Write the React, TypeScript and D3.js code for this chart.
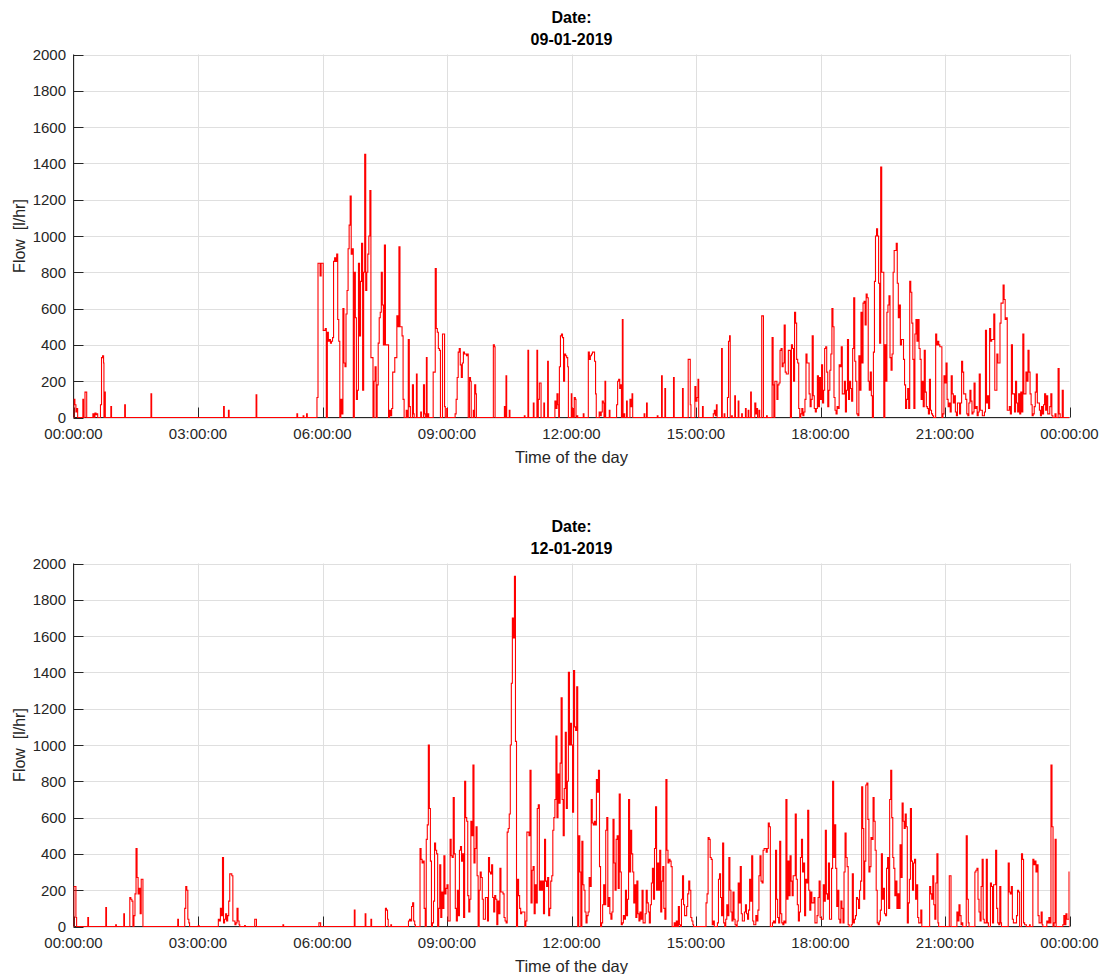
import React, { useEffect } from 'react';
import * as d3 from 'd3';

// ---------------- DATA ----------------
// Flow samples: each burst = [start minute of day, v0, v1, ...] sampled every SAMPLE_STEP minutes; flow is 0 outside bursts.
const SAMPLE_STEP = 1.5;
const DAY_MINUTES = 1440;

const dates = ['09-01-2019', '12-01-2019'];
const yTicks = [0, 200, 400, 600, 800, 1000, 1200, 1400, 1600, 1800, 2000];
const xTicks = [0, 180, 360, 540, 720, 900, 1080, 1260, 1440];
const xTickLabels = ['00:00:00', '03:00:00', '06:00:00', '09:00:00', '12:00:00', '15:00:00', '18:00:00', '21:00:00', '00:00:00'];

const topBursts: number[][] = [
  [0.5, 100, 70, 30, 50],
  [13.5, 100],
  [16.6, 140, 140],
  [28, 20, 0, 25, 15, 20],
  [39, 70, 330, 340, 300],
  [45, 140],
  [54, 60],
  [74, 70],
  [112, 130],
  [217, 60],
  [224, 40],
  [264, 125],
  [323, 20],
  [332, 10],
  [337, 20],
  [352, 110, 850, 850, 780, 850, 850, 480, 480, 490, 0, 470, 420, 430, 410, 420, 440, 860, 880, 860, 900,
    540, 420, 0, 100, 20, 600, 300, 280, 570, 700, 930, 1060, 1220, 900, 930, 0, 800, 550, 100, 150,
    850, 450, 750, 960, 150, 800, 1450, 700, 800, 900, 1000, 1250, 330, 330, 0, 200, 280, 0, 180, 410,
    550, 580, 800, 620, 400, 950, 400, 400, 400, 0, 40, 10, 50, 250, 250, 330, 330, 560, 500, 940,
    500, 500, 450, 100, 0, 0, 40, 0, 430, 60, 0],
  [490, 180, 20],
  [495.8, 240],
  [502, 30],
  [506, 180, 20],
  [510.2, 330],
  [512.5, 20],
  [520, 250, 250, 820, 490, 470, 380, 370, 0, 0, 460, 460, 60],
  [539.6, 50],
  [551.7, 20, 100, 220, 360, 380, 290, 220, 300, 360, 350, 350, 340, 350],
  [572.5, 220, 200],
  [578, 40],
  [580, 180, 130],
  [607, 400, 390],
  [623, 60],
  [625.3, 230],
  [630, 40],
  [651.8, 10],
  [657, 370],
  [664.8, 80],
  [670, 370],
  [672, 100, 190, 190],
  [680, 80],
  [685.5, 310],
  [696, 90, 50, 130, 70],
  [702.5, 280, 450, 460, 440, 200, 350, 340, 330, 280],
  [719.7, 130],
  [721.5, 50],
  [724, 110, 100],
  [728, 10],
  [737, 20],
  [744.3, 360, 320, 340, 350, 360, 360, 310, 130],
  [760, 30, 10, 30, 90, 80],
  [768.4, 200],
  [774.6, 40],
  [785.2, 70, 200, 210, 160, 180],
  [793.5, 540],
  [796, 20],
  [799.6, 90],
  [804.5, 100, 60, 130],
  [825, 20],
  [828.5, 80],
  [844, 10],
  [850.2, 230],
  [855, 160],
  [867.5, 220],
  [880.5, 160],
  [888.7, 320, 320, 70],
  [898.4, 170, 90, 110, 210],
  [909.4, 60],
  [925, 20, 40, 10, 70],
  [937, 380],
  [940.7, 20],
  [945.5, 110, 420, 450],
  [951.5, 10],
  [956, 120],
  [961, 90],
  [966, 20],
  [971.5, 50],
  [975.4, 40],
  [979, 140],
  [985, 80, 20, 50],
  [991, 40],
  [995, 560, 560],
  [1002, 10],
  [1010, 440, 180],
  [1014,
    200, 200, 100, 180, 190, 370, 380, 280, 300, 510,
    250, 240, 240, 370, 370, 0, 400, 380, 200, 580,
    520, 320, 300, 50, 0, 20, 50, 10, 30, 100,
    350, 300, 300, 130, 60, 100, 450, 120, 50, 30,
    50, 230, 60, 220, 100, 290, 80, 150, 380, 390,
    250, 60, 150, 260, 350, 600, 500, 110, 40, 20,
    60, 50, 290, 280, 390, 130, 130, 200, 30, 150,
    430, 100, 200, 160, 90, 380, 660, 310, 200, 20,
    10, 340, 150, 580, 300, 630, 640, 510, 680, 660,
    200, 150, 250, 120, 0, 360, 750, 1000, 1040, 1000,
    740, 410, 1380, 800, 800, 0, 400, 200, 580, 620,
    670, 330, 260, 350, 800, 920, 920, 960, 740, 550,
    620, 400, 430, 430, 320, 180, 50, 100, 160, 50,
    750, 690, 520, 320, 50, 460, 540, 420, 540, 380,
    320, 100, 200, 60, 370, 140, 60, 50, 20, 210,
    40, 20, 10, 0, 0, 460, 400, 420, 400, 390,
    390, 0, 20, 230, 190, 300, 100, 60, 80, 30,
    230, 130, 80, 120, 30, 10, 80, 80, 20, 80,
    310, 250, 130, 130, 100, 20, 10, 80, 150, 90,
    20, 30, 190, 50, 60, 10, 30, 240, 40, 40,
    10, 10, 30, 480, 80, 120, 50, 490, 420, 430,
    430, 570, 150, 150, 350, 300, 300, 520, 630, 630,
    730, 650, 540, 550, 40, 40, 60, 20, 400, 130,
    130, 30, 200, 80, 30, 130, 20, 140, 30, 460,
    130, 130, 250, 200, 370, 250, 130, 70, 10, 20,
    60, 140, 240, 80, 80, 40, 10, 60, 20, 70,
    130, 40, 120, 20, 20, 60, 130, 10, 0, 0,
    20, 0, 0, 270, 20, 0, 0, 150, 0],
];

const bottomBursts: number[][] = [
  [0.5, 220, 220, 50],
  [20.7, 50],
  [46.7, 105],
  [61, 10],
  [72.7, 70],
  [81.4, 160, 150, 140, 0, 60, 180, 430, 270, 180, 210, 70, 260, 260],
  [150.7, 40],
  [160.8, 100, 220, 200, 40, 20],
  [180.5, 5],
  [209.4, 40, 30, 100, 60, 380, 20, 40, 70, 30, 60, 140, 290, 290, 280, 30, 30, 10, 20, 100, 30, 10],
  [247.4, 5],
  [262, 40, 40],
  [302.8, 10],
  [354.8, 20, 20],
  [406, 90],
  [421.7, 70],
  [430, 40],
  [451, 100, 90, 40],
  [458.8, 10],
  [484.3, 30, 40, 30, 110, 130, 30, 10],
  [501,
    430, 370, 350, 360, 100, 0, 480, 560, 1000, 650,
    360, 0, 20, 140, 460, 420, 400, 0, 100, 340,
    50, 190, 100, 390, 180, 210, 230, 30, 30, 480,
    390, 380, 710, 400, 100, 30, 200, 60, 420, 440,
    360, 400, 50, 800, 600, 580, 170, 80, 150, 580,
    500, 890, 350, 430, 550, 280, 0, 200, 300, 270,
    150, 40, 40, 160, 160, 30, 380, 300, 290, 340,
    160, 80, 170, 150, 10, 140, 70, 320, 190, 190,
    180, 50, 30, 20, 520, 540, 620, 1000, 1340, 1700,
    1590, 1930, 1020, 0, 260, 170, 100, 70, 80, 80,
    80, 0, 30, 520, 520, 500, 860, 130, 310, 330,
    70, 230, 130, 650, 670, 200, 250, 200, 250, 70,
    480, 250, 220, 270, 60, 100, 250, 280, 530, 600,
    700, 1050, 600, 840, 680, 900, 1260, 700, 500, 760,
    1070, 650, 800, 1400, 1000, 1120, 1000, 630, 1410, 1100,
    1080, 1320, 0, 500, 300, 0, 470, 230, 200, 80,
    20, 60, 80, 270, 220, 700, 570, 560, 580, 560,
    810, 740, 860, 330, 0, 20, 120, 230, 120, 530,
    600, 110, 160, 70, 40, 80, 590, 350, 200, 480,
    500, 210, 730, 300, 10, 20, 60, 40, 200, 60,
    150, 700, 300, 530, 400, 300, 130, 230, 50, 250,
    70, 30, 80, 40, 200, 20, 20, 70, 200, 130,
    80, 20, 120, 240, 320, 150, 430, 660, 200, 350,
    200, 420, 80, 250, 330, 100, 40, 810, 420, 350,
    370, 360, 330, 0, 0, 20, 0, 30, 0, 110,
    10, 0, 150, 280, 120, 60, 60, 110, 180, 250,
    200, 50, 30, 10],
  [913,
    0, 130, 180, 490, 480, 380, 370, 10, 30, 0,
    0, 0, 20, 260, 290, 160, 60, 460, 20, 0,
    40, 120, 60, 380, 200, 80, 30, 190, 40, 10,
    0, 30, 240, 130, 330, 70, 30, 30, 80, 120,
    70, 40, 90, 260, 140, 390, 30, 10, 10, 60,
    30, 90, 280, 390, 250, 240, 420, 430, 430, 410,
    430, 570, 550, 0, 0, 20, 30, 20, 420, 150,
    50, 20, 470, 70, 20, 10, 30, 20, 700, 150,
    360, 170, 390, 250, 170, 280, 280, 620, 260, 120,
    30, 80, 380, 480, 300, 350, 60, 260, 240, 640,
    200, 90, 190, 130, 130, 160, 20, 20, 60, 160,
    250, 50, 40, 40, 230, 140, 530, 180, 150, 350,
    40, 40, 320, 800, 380, 560, 320, 110, 200,
    40, 20, 140, 100, 20, 300, 515, 380, 330, 10, 0,
    0, 10, 290, 20, 40, 60, 160, 150, 100, 200,
    250, 770, 540, 150, 360, 780, 790, 590, 300, 330,
    490, 480, 710, 580, 420, 200, 20, 10, 30, 90,
    400, 150, 210, 70, 60, 320, 380, 100, 700, 860,
    600, 380, 320, 170, 250, 100, 180, 100, 450, 270,
    680, 580, 540, 620, 550, 20, 130, 260, 650, 360,
    200, 350, 370, 150, 230, 50, 20, 20, 90, 0],
  [1237.8, 220, 180, 150, 280, 120, 40, 240, 400, 20],
  [1266.2, 280, 280],
  [1277.2, 80, 30, 120, 60, 10, 20],
  [1290.7, 500, 150, 20],
  [1303.2, 300, 310, 320, 150, 80, 30, 220, 370, 40, 20, 20, 370, 20, 0, 0, 240, 220, 20, 230, 230, 420, 100, 20, 10, 220, 20],
  [1351.4, 350, 190, 180, 220, 40, 20, 20, 20, 60, 200, 190, 0],
  [1370.6, 400, 370, 20, 10, 10],
  [1382.2, 10],
  [1387, 370, 340, 360, 300, 340, 60, 20, 20, 80, 10],
  [1407.2, 30, 20, 50, 20, 890, 550, 0, 20, 480, 0],
  [1430.3, 10, 60, 10, 70, 40, 40, 300],
];

// ---------------- HELPERS ----------------
function toPoints(bursts: number[][]): [number, number][] {
  const pts: [number, number][] = [[0, 0], [DAY_MINUTES, 0]];
  for (const b of bursts) {
    const [start, ...vals] = b;
    pts.push([start - 1, 0]);
    vals.forEach((v, i) => pts.push([start + i * SAMPLE_STEP, v]));
    pts.push([start + (vals.length - 1) * SAMPLE_STEP + 1, 0]);
  }
  pts.sort((a, b) => a[0] - b[0]);
  return pts;
}

const FONT = '"Liberation Sans", Arial, Helvetica, sans-serif';
const TEXT = '#262626';
const GRID = '#dfdfdf';

const LEFT = 73.5;
const RIGHT = 1069.5;

interface PanelProps {
  idx: number;
  top: number;
  bottom: number;
  date: string;
  bursts: number[][];
}

function Panel({ idx, top, bottom, date, bursts }: PanelProps) {
  const x = d3.scaleLinear().domain([0, DAY_MINUTES]).range([LEFT, RIGHT]);
  const y = d3.scaleLinear().domain([0, 2000]).range([bottom, top]);
  const line = d3
    .line<[number, number]>()
    .x((d) => x(d[0]))
    .y((d) => y(d[1]))
    .curve(d3.curveStepAfter);
  const path = line(toPoints(bursts)) || '';
  const clipId = `clip-${idx}`;
  const midY = (top + bottom) / 2;
  const cx = (LEFT + RIGHT) / 2;

  return (
    <g>
      <defs>
        <clipPath id={clipId}>
          <rect x={LEFT} y={top - 5} width={RIGHT - LEFT} height={bottom - top + 10} />
        </clipPath>
      </defs>
      {/* grid */}
      {yTicks.map((t) => (
        <line key={`gy${t}`} x1={LEFT} x2={RIGHT} y1={Math.round(y(t)) + 0.5} y2={Math.round(y(t)) + 0.5} stroke={GRID} strokeWidth={1} />
      ))}
      {xTicks.map((t) => (
        <line key={`gx${t}`} x1={Math.round(x(t)) + 0.5} x2={Math.round(x(t)) + 0.5} y1={top} y2={bottom} stroke={GRID} strokeWidth={1} />
      ))}
      {/* axes */}
      <line x1={LEFT} x2={LEFT} y1={top} y2={bottom} stroke={TEXT} strokeWidth={1} />
      <line x1={LEFT} x2={RIGHT} y1={bottom} y2={bottom} stroke={TEXT} strokeWidth={1} />
      {yTicks.map((t) => (
        <line key={`ty${t}`} x1={LEFT} x2={LEFT + 10} y1={Math.round(y(t)) + 0.5} y2={Math.round(y(t)) + 0.5} stroke={TEXT} strokeWidth={1} />
      ))}
      {xTicks.map((t) => (
        <line key={`tx${t}`} x1={Math.round(x(t)) + 0.5} x2={Math.round(x(t)) + 0.5} y1={bottom} y2={bottom - 10} stroke={TEXT} strokeWidth={1} />
      ))}
      {/* data */}
      <path d={path} fill="none" stroke="#ff0000" strokeWidth={1.1} strokeLinejoin="miter" clipPath={`url(#${clipId})`} />
      {/* tick labels */}
      {yTicks.map((t) => (
        <text key={`ly${t}`} x={66} y={y(t) + 5.5} textAnchor="end" fontSize={15} fill={TEXT} fontFamily={FONT}>
          {t}
        </text>
      ))}
      {xTicks.map((t, i) => (
        <text key={`lx${t}`} x={x(t)} y={bottom + 21.8} textAnchor="middle" fontSize={15} fill={TEXT} fontFamily={FONT}>
          {xTickLabels[i]}
        </text>
      ))}
      {/* labels */}
      <text x={cx} y={bottom + 45.2} textAnchor="middle" fontSize={16.5} fill={TEXT} fontFamily={FONT}>
        Time of the day
      </text>
      <text
        transform={`translate(25,${midY}) rotate(-90)`}
        textAnchor="middle"
        fontSize={16}
        fill={TEXT}
        fontFamily={FONT}
        style={{ whiteSpace: 'pre' }}
      >
        {'Flow  [l/hr]'}
      </text>
      <text x={cx} y={top - 31.8} textAnchor="middle" fontSize={16} fontWeight="bold" fill="#000" fontFamily={FONT}>
        Date:
      </text>
      <text x={cx} y={top - 9.5} textAnchor="middle" fontSize={16} fontWeight="bold" fill="#000" fontFamily={FONT}>
        {date}
      </text>
    </g>
  );
}

export default function App() {
  useEffect(() => {
    document.body.style.margin = '0';
  }, []);
  return (
    <svg
      width={1103}
      height={974}
      viewBox="0 0 1103 974"
      style={{ position: 'absolute', left: 0, top: 0, display: 'block', background: '#fff' }}
    >
      <rect x={0} y={0} width={1103} height={974} fill="#fff" />
      <Panel idx={0} top={54.5} bottom={417.5} date={dates[0]} bursts={topBursts} />
      <Panel idx={1} top={563.5} bottom={926.5} date={dates[1]} bursts={bottomBursts} />
    </svg>
  );
}
